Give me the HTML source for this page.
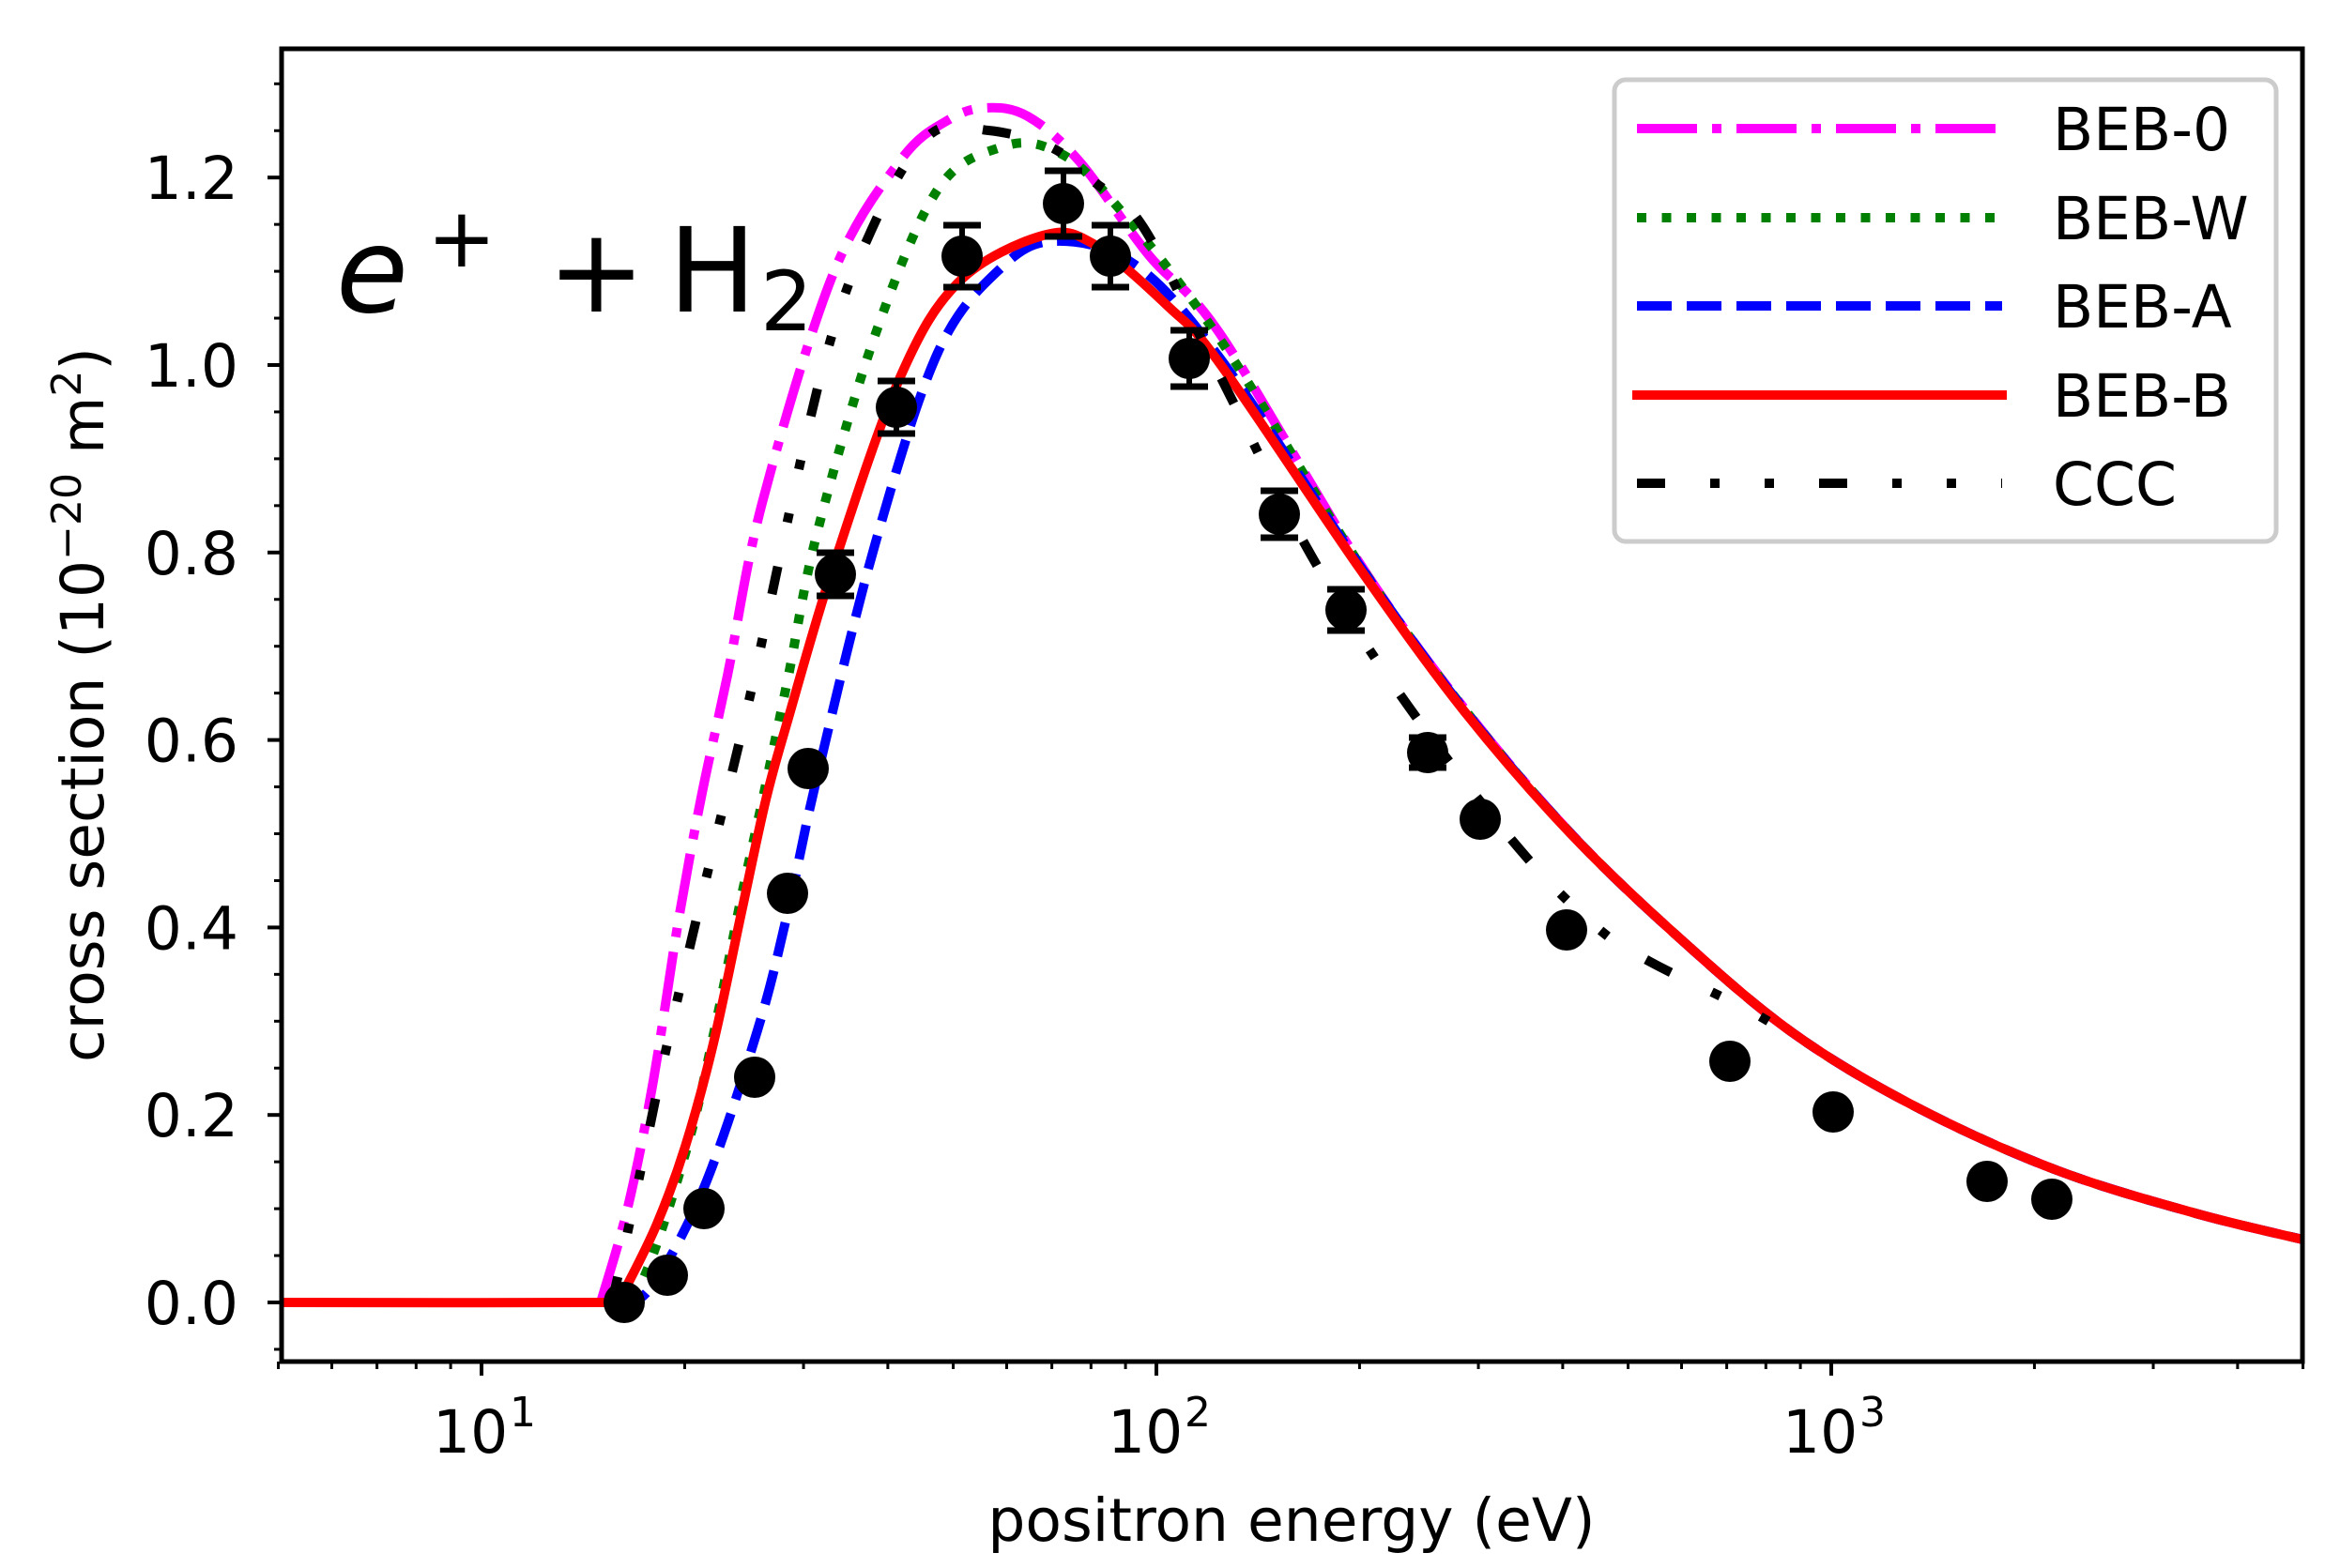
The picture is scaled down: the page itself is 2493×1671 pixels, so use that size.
<!DOCTYPE html>
<html><head><meta charset="utf-8"><style>
html,body{margin:0;padding:0;background:#fff;}
svg{display:block;}
text{font-family:"DejaVu Sans","Liberation Sans",sans-serif;fill:#000;}
</style></head><body>
<svg id="s" width="2493" height="1671" viewBox="0 0 2493 1671" xmlns="http://www.w3.org/2000/svg">
<defs><clipPath id="c"><rect x="300" y="52" width="2153" height="1399"/></clipPath></defs>
<rect width="2493" height="1671" fill="#fff"/>
<g id="curves" clip-path="url(#c)" fill="none" stroke-width="10"></g>
<g id="pts"></g>
<g id="ticks" stroke="#000"></g>
<rect x="300" y="52" width="2153" height="1399" fill="none" stroke="#000" stroke-width="5"/>
<g id="labels" font-size="63"></g>
<text x="358" y="332" font-size="125" font-style="italic">e</text>
<text x="455" y="284" font-size="88">+</text>
<text x="583" y="332" font-size="125">+</text>
<text x="712" y="332" font-size="125">H</text>
<text x="810" y="352" font-size="88">2</text>
<text x="1376" y="1642" font-size="63" text-anchor="middle">positron energy (eV)</text>
<text transform="translate(110,751) rotate(-90)" font-size="63" text-anchor="middle">cross section (10<tspan font-size="44" dy="-24">−20</tspan><tspan dy="24"> m</tspan><tspan font-size="44" dy="-24">2</tspan><tspan dy="24">)</tspan></text>
<rect x="1720" y="85" width="705" height="492" rx="12" fill="#fff" fill-opacity="0.8" stroke="#ccc" stroke-width="5"/>
<g stroke-width="10" fill="none">
<line x1="1744" y1="137" x2="2133" y2="137" stroke="#ff00ff" stroke-dasharray="64 16 10 16"/>
<line x1="1744" y1="232" x2="2133" y2="232" stroke="#008000" stroke-dasharray="10 16.5"/>
<line x1="1744" y1="326" x2="2133" y2="326" stroke="#0000ff" stroke-dasharray="37 16"/>
<line x1="1744" y1="421" x2="2133" y2="421" stroke="#ff0000" stroke-linecap="square"/>
<line x1="1744" y1="515" x2="2133" y2="515" stroke="#000" stroke-dasharray="30 48 10 48 10 48"/>
</g>
<g font-size="63">
<text x="2187" y="160">BEB-0</text>
<text x="2187" y="255">BEB-W</text>
<text x="2187" y="349">BEB-A</text>
<text x="2187" y="444">BEB-B</text>
<text x="2187" y="538">CCC</text>
</g>
</svg>
<script>
var NS="http://www.w3.org/2000/svg";
function el(p,t,a){var e=document.createElementNS(NS,t);for(var k in a)e.setAttribute(k,a[k]);p.appendChild(e);return e;}
function path(pts){var d="M"+pts[0][0]+","+pts[0][1];
for(var i=0;i<pts.length-1;i++){var p0=pts[Math.max(0,i-1)],p1=pts[i],p2=pts[i+1],p3=pts[Math.min(pts.length-1,i+2)];
var c1=[p1[0]+(p2[0]-p0[0])/6,p1[1]+(p2[1]-p0[1])/6],c2=[p2[0]-(p3[0]-p1[0])/6,p2[1]-(p3[1]-p1[1])/6];
d+=" C"+c1[0].toFixed(1)+","+c1[1].toFixed(1)+" "+c2[0].toFixed(1)+","+c2[1].toFixed(1)+" "+p2[0]+","+p2[1];}
return d;}
var tail=[[1448,605],[1560,758],[1671,886],[1783,994],[1909,1100],[2042,1180],[2191,1247],[2339,1293],[2458,1322]];
function tl(off){return tail.map(function(p){var o=p[0]<1700?off*(1700-p[0])/400:0;return [p[0],p[1]-o];});}
var red=[[300,1388],[650,1388],[660,1383],[669,1368],[700,1304],[730,1222],[760,1112],[790,972],[816,852],[840,765],[888,603],[959,402],[1022,300],[1111,251],[1165,260],[1245,327],[1300,388]].concat(tail);
var blue=[[655,1388],[691,1375],[749,1268],[807,1098],[839,973],[870,830],[932,581],[999,376],[1066,286],[1124,257],[1209,282],[1300,382]].concat(tl(5));
var green=[[648,1388],[682,1370],[732,1223],[763,1089],[790,955],[815,840],[840,720],[870,570],[932,358],[999,202],[1066,157],[1120,159],[1178,206],[1300,362]].concat(tl(7));
var mag=[[640,1388],[669,1286],[696,1152],[723,980],[748,845],[775,720],[812,536],[888,291],[960,170],[1010,128],[1050,115],[1095,124],[1150,172],[1224,272],[1300,356]].concat(tl(9));
var ccc=[[648,1388],[656,1370],[682,1250],[709,1121],[738,996],[767,875],[799,742],[874,402],[928,246],[990,144],[1053,139],[1120,157],[1165,193],[1218,242],[1300,401],[1397,592],[1500,752],[1619,905],[1701,988],[1760,1026],[1864,1077],[1916,1109]];
var g=document.getElementById("curves");
el(g,"path",{d:path(mag),stroke:"#ff00ff","stroke-dasharray":"64 16 10 16"});
el(g,"path",{d:path(green),stroke:"#008000","stroke-dasharray":"10 16.5"});
el(g,"path",{d:path(blue),stroke:"#0000ff","stroke-dasharray":"37 16"});
el(g,"path",{d:path(red),stroke:"#ff0000"});
el(g,"path",{d:path(ccc),stroke:"#000","stroke-dasharray":"30 48 10 48 10 48"});
var P=[[665,1388,0],[711,1359,0],[750,1288,0],[804,1148,0],[839,952,0],[861,819,0],[890,612,23],[955,434,28],[1025,273,33],[1133,217,35],[1183,273,33],[1267,382,30],[1363,548,25],[1434,650,22],[1521,802,16],[1577,873,0],[1669,991,0],[1843,1131,0],[1953,1185,0],[2117,1259,0],[2186,1278,0]];
var pg=document.getElementById("pts");
P.forEach(function(p){if(p[2]){el(pg,"line",{x1:p[0],y1:p[1]-p[2],x2:p[0],y2:p[1]+p[2],stroke:"#000","stroke-width":6});
el(pg,"line",{x1:p[0]-20,y1:p[1]-p[2],x2:p[0]+20,y2:p[1]-p[2],stroke:"#000","stroke-width":7});
el(pg,"line",{x1:p[0]-20,y1:p[1]+p[2],x2:p[0]+20,y2:p[1]+p[2],stroke:"#000","stroke-width":7});}
el(pg,"circle",{cx:p[0],cy:p[1],r:22,fill:"#000"});});
var tg=document.getElementById("ticks"),lg=document.getElementById("labels");
function Y(v){return 1388-999*v;}
function X(E){return 513+719*(Math.log10(E)-1);}
for(var i=-1;i<=26;i++){var v=i*0.05,y=Y(v);if(y<52||y>1451)continue;var maj=(i%4===0)&&i>=0;
el(tg,"line",{x1:300,y1:y,x2:300-(maj?15:8),y2:y,"stroke-width":maj?4:3});
if(maj){var t=el(lg,"text",{x:254,y:y+23,"text-anchor":"end"});t.textContent=(v).toFixed(1);}}
[1,10,100,1000].forEach(function(d){for(var m=1;m<10;m++){var E=d*m;if(E<5||E>5000)continue;var x=X(E);var maj=(m===1);
el(tg,"line",{x1:x,y1:1451,x2:x,y2:1451+(maj?15:8),"stroke-width":maj?4:3});}});
[[1,"1"],[2,"2"],[3,"3"]].forEach(function(q){var x=X(Math.pow(10,q[0]));
var t=el(lg,"text",{x:x-52,y:1548});t.textContent="10";
var s=el(lg,"text",{x:x+30,y:1520,"font-size":44});s.textContent=q[1];});
</script>
</body></html>
